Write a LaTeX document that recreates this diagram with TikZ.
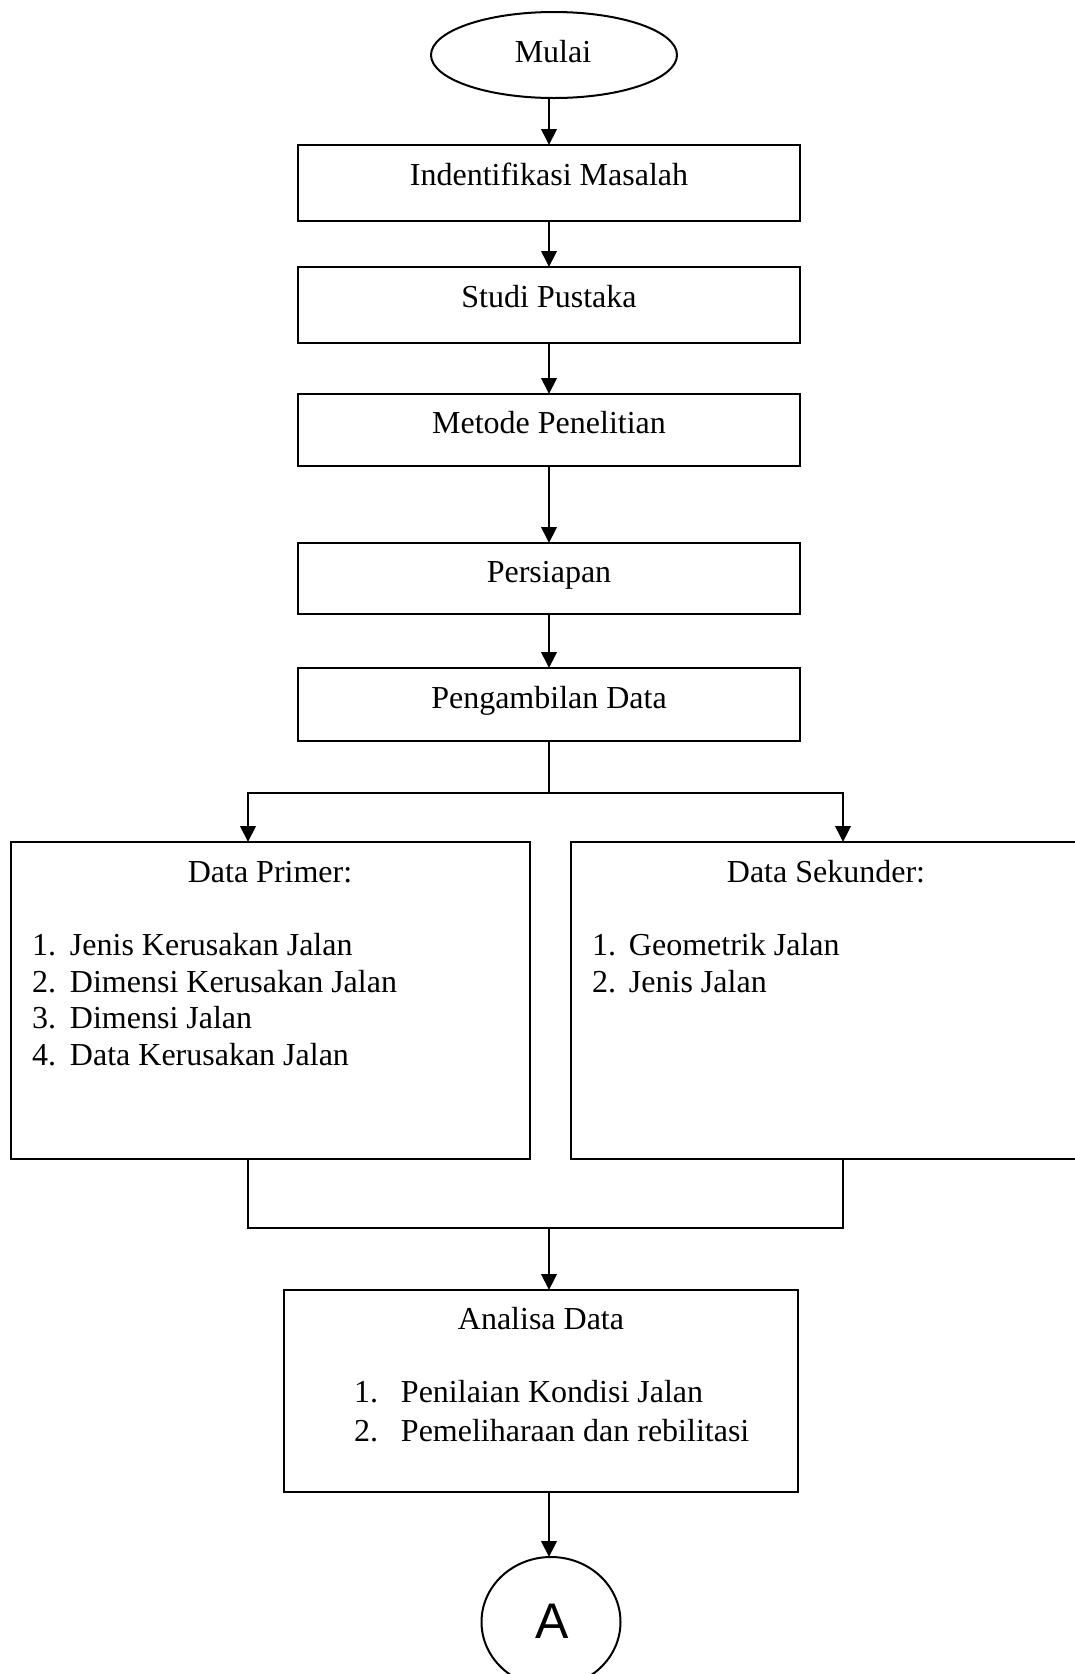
\documentclass[tikz,border=0pt]{standalone}
\usepackage{fontspec}
\setmainfont{Liberation Serif}
\newfontfamily\asans{Liberation Sans}
\usetikzlibrary{arrows.meta,shapes.geometric}
\begin{document}
\begin{tikzpicture}[x=1pt,y=-1pt,
  line width=2pt,
  box/.style={draw, rectangle, inner sep=0pt, outer sep=0pt},
  txt/.style={inner sep=0pt, outer sep=0pt, font=\fontsize{32}{36}\selectfont, anchor=base},
  item/.style={txt, anchor=base west},
  arr/.style={-{Triangle[width=15.5pt,length=16pt]}},
  ]
\useasboundingbox (0,0) rectangle (1075,1674);

% shapes
\node[draw, ellipse, minimum width=246pt, minimum height=86pt, inner sep=0pt, outer sep=0pt] (mulai) at (554,55) {};
\node[box, minimum width=502pt, minimum height=76pt] (b1) at (549,183) {};
\node[box, minimum width=502pt, minimum height=76pt] (b2) at (549,305) {};
\node[box, minimum width=502pt, minimum height=72pt] (b3) at (549,430) {};
\node[box, minimum width=502pt, minimum height=71pt] (b4) at (549,578.5) {};
\node[box, minimum width=502pt, minimum height=73pt] (b5) at (549,704.5) {};
\node[box, minimum width=519pt, minimum height=317pt] (primer) at (270.5,1000.5) {};
\node[box, minimum width=511pt, minimum height=317pt] (sekunder) at (826.5,1000.5) {};
\node[box, minimum width=514pt, minimum height=202pt] (analisa) at (541,1391) {};
\node[draw, ellipse, minimum width=139pt, minimum height=130pt, inner sep=0pt, outer sep=0pt] (A) at (551,1622) {};

% texts
\node[txt] (tmulai) at (553,62) {Mulai};
\node[txt] (t1) at (549,185) {Indentifikasi Masalah};
\node[txt] (t2) at (549,307) {Studi Pustaka};
\node[txt] (t3) at (549,433) {Metode Penelitian};
\node[txt] (t4) at (549,582) {Persiapan};
\node[txt] (t5) at (549,708) {Pengambilan Data};

\node[txt] (tp) at (270,882) {Data Primer:};
\node[item] (p1) at (32,955) {\makebox[38pt][l]{1.}Jenis Kerusakan Jalan};
\node[item] (p2) at (32,992) {\makebox[38pt][l]{2.}Dimensi Kerusakan Jalan};
\node[item] (p3) at (32,1028) {\makebox[38pt][l]{3.}Dimensi Jalan};
\node[item] (p4) at (32,1065) {\makebox[38pt][l]{4.}Data Kerusakan Jalan};

\node[txt] (ts) at (826,882) {Data Sekunder:};
\node[item] (s1) at (592,955) {\makebox[37pt][l]{1.}Geometrik Jalan};
\node[item] (s2) at (592,992) {\makebox[37pt][l]{2.}Jenis Jalan};

\node[txt] (ta) at (541,1329) {Analisa Data};
\node[item] (a1) at (354,1402) {\makebox[47pt][l]{1.}Penilaian Kondisi Jalan};
\node[item] (a2) at (354,1441) {\makebox[47pt][l]{2.}Pemeliharaan dan rebilitasi};

\node[inner sep=0pt, anchor=base, font=\asans\fontsize{50}{56}\selectfont] (tA) at (552,1638) {A};

% connectors
\draw[arr] (mulai.south -| b1.north) -- (b1.north);
\draw[arr] (b1.south) -- (b2.north);
\draw[arr] (b2.south) -- (b3.north);
\draw[arr] (b3.south) -- (b4.north);
\draw[arr] (b4.south) -- (b5.north);

\draw (b5.south) -- ++(0,52) coordinate (sp);
\draw[arr] (sp) -| ([xshift=-22.5pt]primer.north);
\draw[arr] (sp) -| ([xshift=16.5pt]sekunder.north);

\coordinate (pb) at ([xshift=-22.5pt]primer.south);
\coordinate (sb) at ([xshift=16.5pt]sekunder.south);
\draw (pb) -- ++(0,69) coordinate (ml) -| (sb);
\draw[arr] (ml -| b5.south) -- (analisa.north -| b5.south);

\draw[arr] (analisa.south -| b5.south) -- (A.north -| b5.south);
\end{tikzpicture}
\end{document}
